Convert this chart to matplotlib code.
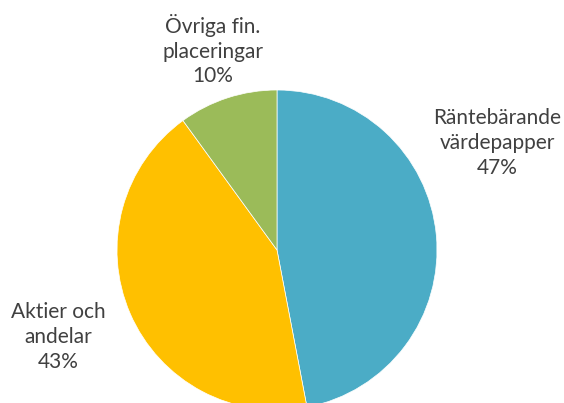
import numpy as np
import matplotlib.pyplot as plt

# andelar av finansiella tillgångar
kategorier = ['Räntebärande\nvärdepapper', 'Aktier och\nandelar', 'Övriga fin.\nplaceringar']
andelar = [47, 43, 10]
farger = ['#4BACC6', '#FFC000', '#9BBB59']
etikett_pos = [(497, 260), (58, 66), (213, 353)]

plt.rcParams['font.family'] = ['Lato', 'DejaVu Sans']

fig = plt.figure(figsize=(5.64, 4.03), dpi=100)
ax = fig.add_axes([0, 0, 1, 1])
ax.set_xlim(0, 564)
ax.set_ylim(0, 403)
ax.set_aspect('equal')
ax.axis('off')

ax.pie(andelar, colors=farger, startangle=90, counterclock=False,
       center=(277, 153), radius=160, frame=True,
       wedgeprops=dict(linewidth=0.5, edgecolor='white'))
ax.set_xlim(0, 564)
ax.set_ylim(0, 403)
ax.axis('off')

for namn, v, (x, y) in zip(kategorier, andelar, etikett_pos):
    ax.text(x, y, f'{namn}\n{v}%', ha='center', va='center', fontsize=15,
            color='#404040', linespacing=1.3)

fig.savefig('out.png', dpi=100)
